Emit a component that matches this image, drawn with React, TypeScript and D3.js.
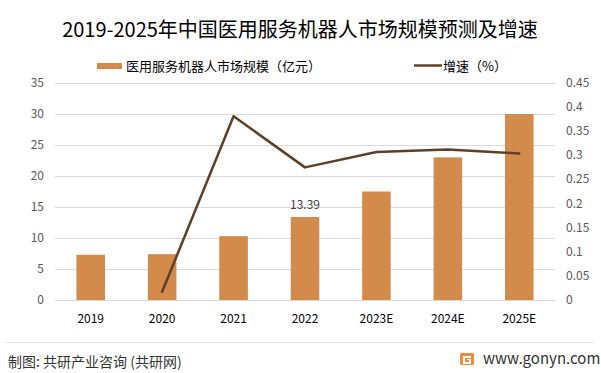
import React, { useEffect, useRef } from 'react';
import * as d3 from 'd3';

const years = ['2019', '2020', '2021', '2022', '2023E', '2024E', '2025E'];
const marketSize = [7.3, 7.4, 10.3, 13.39, 17.5, 23.0, 30.0];
const growth: (number | null)[] = [null, 0.017, 0.381, 0.275, 0.307, 0.312, 0.304];
const leftTicks = [0, 5, 10, 15, 20, 25, 30, 35];
const rightTicks = [0, 0.05, 0.1, 0.15, 0.2, 0.25, 0.3, 0.35, 0.4, 0.45];
const labelledIndex = [3];

const BAR = '#d38b4c';
const LINE = '#5f4027';
const FONT = '"Noto Sans CJK SC", "Noto Sans", sans-serif';

export default function App() {
  const svgRef = useRef<SVGSVGElement>(null);

  useEffect(() => {
    const svg = d3.select(svgRef.current);
    svg.selectAll('*').remove();
    const width = 601, height = 373;
    const m = { top: 83, right: 46, bottom: 73, left: 55 };

    const x = d3.scaleBand().domain(years).range([m.left, width - m.right]).paddingInner(0.6).paddingOuter(0.3);
    const yL = d3.scaleLinear().domain([0, 35]).range([height - m.bottom, m.top]);
    const yR = d3.scaleLinear().domain([0, 0.45]).range([height - m.bottom, m.top]);

    svg.append('rect').attr('width', width).attr('height', height).attr('fill', '#fff');

    // 标题
    svg.append('text').attr('x', 300).attr('y', 37).attr('text-anchor', 'middle')
      .style('font-family', FONT).style('font-size', '20px').attr('fill', '#000')
      .text('2019-2025年中国医用服务机器人市场规模预测及增速');

    // 图例
    svg.append('rect').attr('x', 97).attr('y', 63).attr('width', 25).attr('height', 6).attr('fill', BAR);
    svg.append('text').attr('x', 126).attr('y', 70.5).style('font-family', FONT).style('font-size', '13px').attr('fill', '#000')
      .text('医用服务机器人市场规模（亿元）');
    svg.append('line').attr('x1', 414).attr('x2', 442).attr('y1', 65.5).attr('y2', 65.5).attr('stroke', LINE).attr('stroke-width', 2.5);
    svg.append('text').attr('x', 443).attr('y', 70.5).style('font-family', FONT).style('font-size', '13px').attr('fill', '#000')
      .text('增速（%）');

    // 网格
    const g = svg.append('g');
    g.selectAll('.grid').data(leftTicks).join('line')
      .attr('x1', m.left).attr('x2', width - m.right)
      .attr('y1', d => yL(d) + 0.5).attr('y2', d => yL(d) + 0.5)
      .attr('stroke', '#d9d9d9').attr('stroke-width', 1);

    g.selectAll('.lt').data(leftTicks).join('text')
      .attr('x', 44).attr('y', d => yL(d) + 4).attr('text-anchor', 'end')
      .style('font-family', FONT).style('font-size', '12px').attr('fill', '#595959').text(d => d);
    g.selectAll('.rt').data(rightTicks).join('text')
      .attr('x', 566).attr('y', d => yR(d) + 4).attr('text-anchor', 'start')
      .style('font-family', FONT).style('font-size', '12px').attr('fill', '#595959').text(d => d);

    // 柱
    g.selectAll('.bar').data(marketSize).join('rect')
      .attr('x', (d, i) => x(years[i])!).attr('width', x.bandwidth())
      .attr('y', d => yL(d)).attr('height', d => yL(0) - yL(d)).attr('fill', BAR);

    g.selectAll('.val').data(labelledIndex).join('text')
      .attr('x', i => x(years[i])! + x.bandwidth() / 2).attr('y', i => yL(marketSize[i]) - 8)
      .attr('text-anchor', 'middle').style('font-family', FONT).style('font-size', '12px').attr('fill', '#404040')
      .text(i => marketSize[i]);

    // x 轴标签
    g.selectAll('.xl').data(years).join('text')
      .attr('x', d => x(d)! + x.bandwidth() / 2).attr('y', 323).attr('text-anchor', 'middle')
      .style('font-family', FONT).style('font-size', '12px').attr('fill', '#000').text(d => d);

    // 增速线
    const pts = years.map((yr, i) => ({ yr, v: growth[i] })).filter(p => p.v !== null) as { yr: string; v: number }[];
    const line = d3.line<{ yr: string; v: number }>().x(p => x(p.yr)! + x.bandwidth() / 2).y(p => yR(p.v));
    g.append('path').datum(pts).attr('d', line).attr('fill', 'none')
      .attr('stroke', LINE).attr('stroke-width', 2.5).attr('stroke-linejoin', 'round').attr('stroke-linecap', 'round');

    // 底部
    svg.append('line').attr('x1', 5).attr('x2', 594).attr('y1', 342.5).attr('y2', 342.5).attr('stroke', '#e3e3e3');
    svg.append('text').attr('x', 8).attr('y', 367).style('font-family', FONT).style('font-size', '14px').attr('fill', '#333')
      .text('制图: 共研产业咨询 (共研网)');
    const logo = svg.append('g').attr('transform', 'translate(460,353)');
    logo.append('rect').attr('width', 14).attr('height', 12).attr('rx', 1.5).attr('fill', '#f08a3c');
    logo.append('path').attr('d', 'M3,3 H11 V5 H5 V9 H9 V7 H7 V6 H11 V11 H3 Z').attr('fill', '#fff');
    svg.append('text').attr('x', 483).attr('y', 364).style('font-family', FONT).style('font-size', '15px').attr('fill', '#333')
      .text('www.gonyn.com');
  }, []);

  return (
    <svg ref={svgRef} width={601} height={373} style={{ position: 'absolute', left: 0, top: 0, display: 'block' }} />
  );
}
